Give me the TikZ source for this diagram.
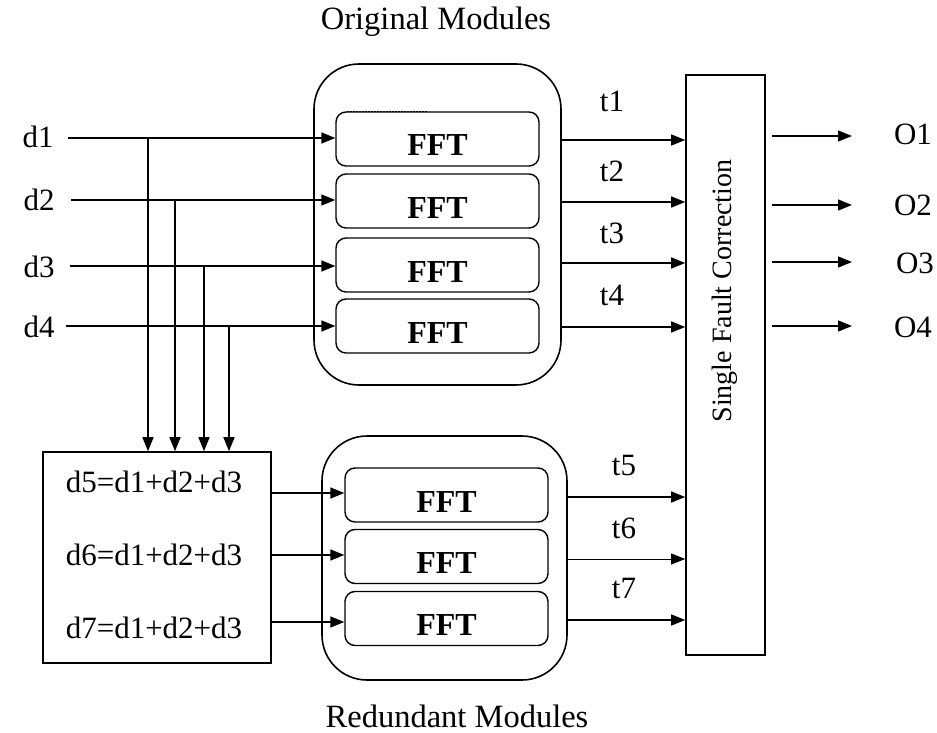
\documentclass[tikz,border=0pt]{standalone}
\usepackage{fontspec}
\setmainfont{Liberation Serif}
\usetikzlibrary{arrows.meta}
\begin{document}
\begin{tikzpicture}[x=1pt,y=-1pt,
  lbl/.style={font=\fontsize{31}{35}\selectfont, inner sep=0pt, anchor=base},
  title/.style={font=\fontsize{32.5}{37}\selectfont, inner sep=0pt, anchor=base},
  fft/.style={draw, line width=1.4pt, rounded corners=10pt, minimum width=203pt,
    minimum height=54pt, font=\fontsize{32}{36}\selectfont\bfseries,
    text height=34pt, text depth=0pt, inner sep=0pt},
  group/.style={draw, line width=1.6pt, rounded corners=45pt, inner sep=0pt},
  box/.style={draw, line width=1.6pt, inner sep=0pt},
  arr/.style={line width=1.4pt, -{Triangle[length=14pt,width=11pt]}},
  thinarr/.style={line width=0.8pt, -{Triangle[length=14pt,width=11pt]}}
]
\useasboundingbox (0,0) rectangle (937,733);

% containers
\node[group, minimum width=247pt, minimum height=321pt] (orig) at (437.5,224.5) {};
\node[group, minimum width=245pt, minimum height=244pt] (red) at (444.5,558) {};
\node[box, minimum width=79pt, minimum height=580pt] (sfc) at (725.5,365) {};
\node[box, minimum width=228pt, minimum height=211pt] (mix) at (157,557.5) {};

\node[font=\fontsize{28}{32}\selectfont, rotate=90, inner sep=0pt] (sfct) at (725,291) {Single Fault Correction};

% titles
\node[title] (tOrig) at (436,30) {Original Modules};
\node[title] (tRed) at (457,727) {Redundant Modules};

% FFT boxes
\node[fft] (f1) at (437.5,139) {FFT};
\node[fft] (f2) at (437.5,201) {FFT};
\node[fft] (f3) at (437.5,265) {FFT};
\node[fft] (f4) at (437.5,326) {FFT};
\node[fft] (r1) at (446.5,495) {FFT};
\node[fft] (r2) at (446.5,556.5) {FFT};
\node[fft] (r3) at (446.5,618.5) {FFT};

% dotted mark on top of first FFT
\draw[line width=1pt, dash pattern=on 1.5pt off 1.5pt] (347,111.5) -- (428,111.5);

% input labels
\node[lbl] (d1) at (38,148) {d1};
\node[lbl] (d2) at (39,210) {d2};
\node[lbl] (d3) at (39,277) {d3};
\node[lbl] (d4) at (39,337) {d4};

% input line starts and taps
\coordinate (s1) at (68,138);
\coordinate (s2) at (71,200);
\coordinate (s3) at (70,266);
\coordinate (s4) at (66,326);
\coordinate (k1) at (148,138);
\coordinate (k2) at (175,200);
\coordinate (k3) at (204,266);
\coordinate (k4) at (229,326);

\draw[arr] (s1) -- (s1 -| f1.west);
\draw[arr] (s2) -- (s2 -| f2.west);
\draw[arr] (s3) -- (s3 -| f3.west);
\draw[arr] (s4) -- (s4 -| f4.west);

\draw[arr] (k1) -- (k1 |- mix.north);
\draw[arr] (k2) -- (k2 |- mix.north);
\draw[arr] (k3) -- (k3 |- mix.north);
\draw[arr] (k4) -- (k4 |- mix.north);

% mix texts
\node[lbl] (m5) at (154,492) {d5=d1+d2+d3};
\node[lbl] (m6) at (154,565) {d6=d1+d2+d3};
\node[lbl] (m7) at (154,638) {d7=d1+d2+d3};

% mix to redundant FFTs
\coordinate (q1) at (0,493);
\coordinate (q2) at (0,555);
\coordinate (q3) at (0,622);
\draw[arr] (q1 -| mix.east) -- (q1 -| r1.west);
\draw[arr] (q2 -| mix.east) -- (q2 -| r2.west);
\draw[arr] (q3 -| mix.east) -- (q3 -| r3.west);

% outputs t1..t7
\coordinate (u1) at (0,140);
\coordinate (u2) at (0,202);
\coordinate (u3) at (0,263);
\coordinate (u4) at (0,327);
\coordinate (u5) at (0,497);
\coordinate (u6) at (0,559);
\coordinate (u7) at (0,620);
\draw[arr] (u1 -| orig.east) -- (u1 -| sfc.west);
\draw[arr] (u2 -| orig.east) -- (u2 -| sfc.west);
\draw[arr] (u3 -| orig.east) -- (u3 -| sfc.west);
\draw[arr] (u4 -| orig.east) -- (u4 -| sfc.west);
\draw[arr] (u5 -| red.east) -- (u5 -| sfc.west);
\draw[thinarr] (u6 -| red.east) -- (u6 -| sfc.west);
\draw[arr] (u7 -| red.east) -- (u7 -| sfc.west);

\node[lbl] (t1) at (612,112) {t1};
\node[lbl] (t2) at (612,181) {t2};
\node[lbl] (t3) at (612,243) {t3};
\node[lbl] (t4) at (612,305) {t4};
\node[lbl] (t5) at (624,475) {t5};
\node[lbl] (t6) at (624,538) {t6};
\node[lbl] (t7) at (624,598) {t7};

% outputs O1..O4
\coordinate (e1) at (852,136);
\coordinate (e2) at (852,205);
\coordinate (e3) at (852,262);
\coordinate (e4) at (852,326);
\draw[arr] ([xshift=6pt]e1 -| sfc.east) -- (e1);
\draw[arr] ([xshift=6pt]e2 -| sfc.east) -- (e2);
\draw[arr] ([xshift=6pt]e3 -| sfc.east) -- (e3);
\draw[arr] ([xshift=6pt]e4 -| sfc.east) -- (e4);

\node[lbl] (o1) at (913,145) {O1};
\node[lbl] (o2) at (913,215) {O2};
\node[lbl] (o3) at (915,273) {O3};
\node[lbl] (o4) at (913,337) {O4};
\end{tikzpicture}
\end{document}
